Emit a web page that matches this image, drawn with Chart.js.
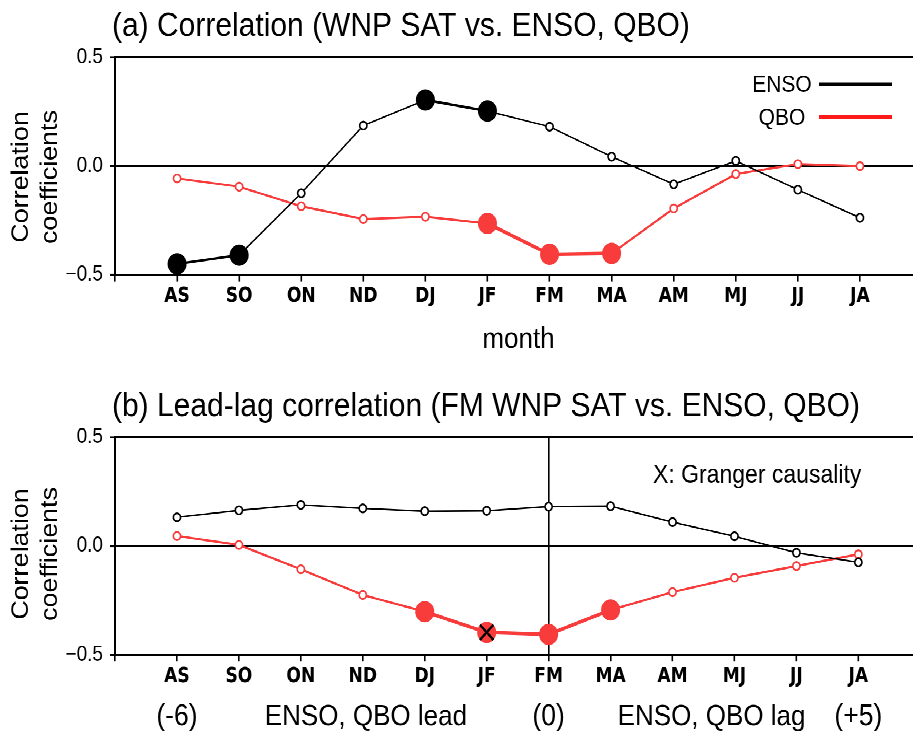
<!DOCTYPE html>
<html><head><meta charset="utf-8">
<script src="https://cdn.jsdelivr.net/npm/chart.js@4/dist/chart.umd.min.js"></script>
<style>
html,body{margin:0;padding:0;overflow:hidden;background:#fff;width:913px;height:736px;}
#wrap{position:absolute;left:0;top:0;width:932px;height:657px;transform:scaleY(1.12);transform-origin:0 0;}
canvas{display:block;}
</style></head><body>
<div id="wrap">
<canvas id="ca" width="932" height="329"></canvas>
<canvas id="cb" width="932" height="328"></canvas>
</div>
<script>
// ---- data ----
const months = ['AS','SO','ON','ND','DJ','JF','FM','MA','AM','MJ','JJ','JA'];
const yTickValues = [-0.5, 0, 0.5];
const yTickLabels = ['\u22120.5', '0.0', '0.5'];
const seriesNames = ['ENSO', 'QBO'];

// (a) Correlation
const ensoA = [-0.45, -0.41, -0.125, 0.186, 0.304, 0.253, 0.181, 0.043, -0.084, 0.024, -0.109, -0.238];
const qboA  = [-0.057, -0.095, -0.185, -0.244, -0.233, -0.264, -0.406, -0.402, -0.195, -0.037, 0.009, 0.0];
const ensoSigA = [true, true, false, false, true, true, false, false, false, false, false, false];
const qboSigA  = [false, false, false, false, false, true, true, true, false, false, false, false];

// (b) Lead-lag correlation
const ensoB = [0.132, 0.164, 0.189, 0.173, 0.160, 0.162, 0.181, 0.183, 0.110, 0.045, -0.031, -0.075];
const qboB  = [0.046, 0.005, -0.107, -0.225, -0.302, -0.397, -0.406, -0.294, -0.212, -0.146, -0.092, -0.038];
const ensoSigB = [false, false, false, false, false, false, false, false, false, false, false, false];
const qboSigB  = [false, false, false, false, true, true, true, true, false, false, false, false];
const qboGrangerB = [false, false, false, false, false, true, false, false, false, false, false, false];
const lagMarks = [{i: 0, text: '(-6)'}, {i: 6, text: '(0)'}, {i: 11, text: '(+5)'}];
const refMonthB = 'FM';

const titleA = '(a) Correlation (WNP SAT vs. ENSO, QBO)';
const titleB = '(b) Lead-lag correlation (FM WNP SAT vs. ENSO, QBO)';
const yTitle = ['Correlation', 'coefficients'];
const xTitleA = 'month';
const leadText = 'ENSO, QBO lead';
const lagText = 'ENSO, QBO lag';
const grangerText = 'X: Granger causality';

// ---- styling ----
const BLACK = '#000000';
const RED = '#f83b3b';
const SANS = "'Liberation Sans', Arial, sans-serif";
const NARROW = "'Liberation Sans Narrow', 'DejaVu Sans Condensed', sans-serif";

function txt(ctx, s, x, y, size, align) {
  ctx.save();
  ctx.font = size + 'px ' + SANS;
  ctx.fillStyle = '#000';
  ctx.textAlign = align || 'left';
  ctx.textBaseline = 'alphabetic';
  ctx.fillText(s, x, y);
  ctx.restore();
}
function yTitleDraw(ctx, cy) {
  [[28, yTitle[0]], [57, yTitle[1]]].forEach(([bx, s]) => {
    ctx.save();
    ctx.font = '24px ' + SANS;
    ctx.fillStyle = '#000';
    ctx.textAlign = 'center';
    ctx.textBaseline = 'alphabetic';
    ctx.translate(bx, cy); ctx.rotate(-Math.PI / 2); ctx.fillText(s, 0, 0);
    ctx.restore();
  });
}

function series(label, vals, sig, color, thin, thick) {
  return {
    label: label,
    data: vals.map((v, i) => ({x: i, y: v})),
    borderColor: color,
    borderWidth: thin,
    segment: { borderWidth: c => (sig[c.p0DataIndex] && sig[c.p1DataIndex]) ? thick : thin },
    pointRadius: c => sig[c.dataIndex] ? 9 : 3.6,
    pointHoverRadius: c => sig[c.dataIndex] ? 9 : 3.6,
    pointBackgroundColor: c => sig[c.dataIndex] ? color : '#ffffff',
    pointBorderColor: color,
    pointBorderWidth: c => sig[c.dataIndex] ? 1 : 1.6,
    tension: 0,
    clip: false
  };
}

function makeChart(id, cfg) {
  const datasets = [];
  if (cfg.granger) {
    datasets.push({
      label: 'Granger',
      data: cfg.granger.map((g, i) => g ? {x: i, y: cfg.qbo[i]} : null).filter(p => p),
      showLine: false,
      pointStyle: 'crossRot',
      pointRadius: 9.5,
      pointBorderColor: BLACK,
      pointBorderWidth: 2.2,
      clip: false
    });
  }
  datasets.push(series(seriesNames[0], cfg.enso, cfg.ensoSig, BLACK, 1.4, 2.2));
  datasets.push(series(seriesNames[1], cfg.qbo, cfg.qboSig, RED, 2, 3.2));
  const vIdx = cfg.vline ? months.indexOf(cfg.vline) : null;
  return new Chart(document.getElementById(id), {
    type: 'line',
    data: { datasets },
    options: {
      responsive: false,
      animation: false,
      devicePixelRatio: 2,
      layout: { padding: { left: 0, right: 8, top: cfg.padTop, bottom: cfg.padBottom } },
      plugins: { legend: { display: false }, tooltip: { enabled: false }, title: { display: false } },
      events: [],
      scales: {
        x: {
          type: 'linear', min: -1, max: 12,
          afterBuildTicks: s => { s.ticks = [-1].concat(months.map((m, i) => i)).map(v => ({value: v})); },
          afterFit: s => { s.height = 30; },
          ticks: {
            autoSkip: false, maxRotation: 0, minRotation: 0,
            callback: v => (months[v] !== undefined ? months[v] : ''),
            font: { family: NARROW, size: 19, weight: 'bold' },
            color: '#000', padding: 2
          },
          grid: {
            drawOnChartArea: true,
            color: c => (vIdx !== null && c.tick && c.tick.value === vIdx) ? '#000' : 'rgba(0,0,0,0)',
            lineWidth: 1.6,
            tickLength: 6, tickColor: '#000', tickWidth: 1.6
          },
          border: { display: true, color: '#000', width: 2 }
        },
        y: {
          type: 'linear', min: -0.5, max: 0.5,
          afterBuildTicks: s => { s.ticks = yTickValues.map(v => ({value: v})); },
          afterFit: s => { s.width = 115; },
          ticks: {
            callback: v => { const k = yTickValues.indexOf(v); return k >= 0 ? yTickLabels[k] : ''; },
            font: { family: SANS, size: 19 },
            color: '#000', padding: 7
          },
          grid: {
            color: c => (c.tick && (c.tick.value === 0 || c.tick.value === 0.5)) ? '#000' : 'rgba(0,0,0,0)',
            lineWidth: c => (c.tick && c.tick.value === 0.5) ? 2 : 1.5,
            tickLength: 5, tickColor: '#000', tickWidth: 1.6
          },
          border: { display: true, color: '#000', width: 2 }
        }
      }
    },
    plugins: [{ id: 'texts_' + id, afterDraw: cfg.draw }]
  });
}

makeChart('ca', {
  enso: ensoA, qbo: qboA, ensoSig: ensoSigA, qboSig: qboSigA,
  padTop: 51.2, padBottom: 53.7,
  draw: chart => {
    const ctx = chart.ctx, ca = chart.chartArea;
    txt(ctx, titleA, 112, 32, 30, 'left');
    txt(ctx, xTitleA, (ca.left + ca.right) / 2, 310.5, 26, 'center');
    yTitleDraw(ctx, 158);
    // legend
    txt(ctx, seriesNames[0], 782, 82, 21, 'center');
    txt(ctx, seriesNames[1], 782, 111.5, 21, 'center');
    ctx.save();
    ctx.lineWidth = 3;
    ctx.strokeStyle = BLACK;
    ctx.beginPath(); ctx.moveTo(819, 75.3); ctx.lineTo(892, 75.3); ctx.stroke();
    ctx.strokeStyle = '#ff1a1a';
    ctx.beginPath(); ctx.moveTo(819, 104.5); ctx.lineTo(892, 104.5); ctx.stroke();
    ctx.restore();
  }
});

makeChart('cb', {
  enso: ensoB, qbo: qboB, ensoSig: ensoSigB, qboSig: qboSigB, granger: qboGrangerB,
  vline: refMonthB,
  padTop: 61.4, padBottom: 42.4,
  draw: chart => {
    const ctx = chart.ctx, xs = chart.scales.x;
    txt(ctx, titleB, 112, 42.4, 30, 'left');
    txt(ctx, grangerText, 653, 102, 23, 'left');
    yTitleDraw(ctx, 165.6);
    const by = 318.5;
    lagMarks.forEach(m => txt(ctx, m.text, xs.getPixelForValue(m.i), by, 26.5, 'center'));
    txt(ctx, leadText, xs.getPixelForValue(3.05), by, 26, 'center');
    txt(ctx, lagText, xs.getPixelForValue(8.63), by, 26, 'center');
  }
});
</script>
</body></html>
